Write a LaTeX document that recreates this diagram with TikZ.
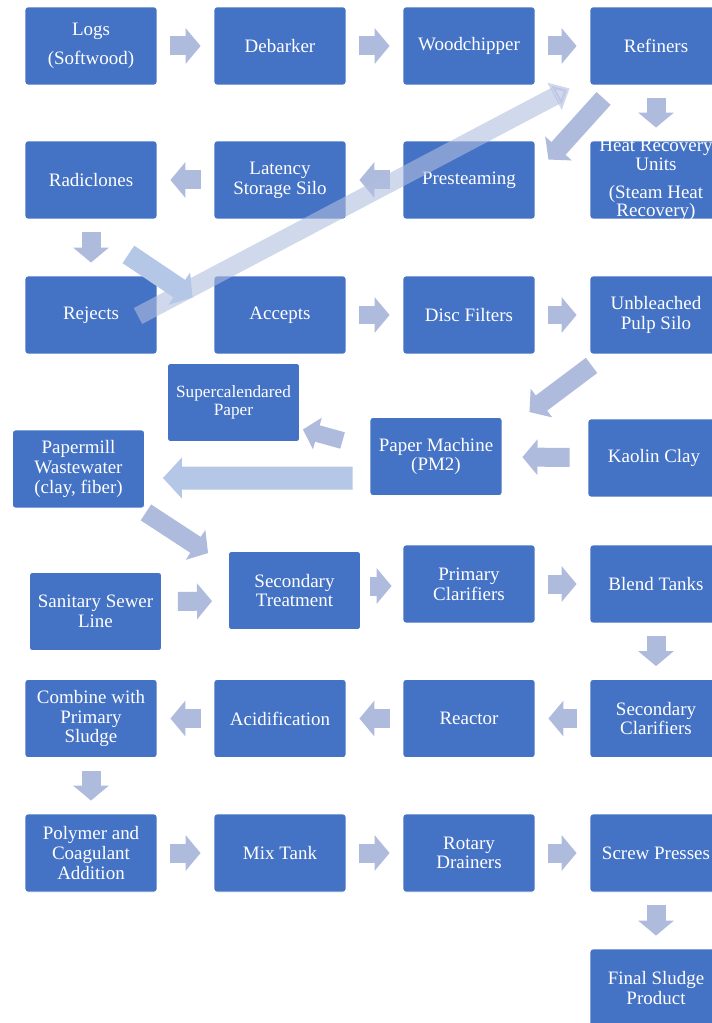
\documentclass[tikz,border=0pt]{standalone}
\usepackage{fontspec}
\setmainfont{Liberation Serif}
\usetikzlibrary{arrows.meta,calc}
\definecolor{boxblue}{RGB}{68,114,196}
\definecolor{arrgray}{RGB}{175,187,221}
\definecolor{arrblue}{RGB}{180,199,231}
\definecolor{arrpale}{RGB}{177,190,223}
\begin{document}
\begin{tikzpicture}[x=0.02cm, y=-0.02cm,
  box/.style={draw=white, line width=.5pt, fill=boxblue, rounded corners=1.5pt,
    minimum width=2.64cm, minimum height=1.56cm, inner sep=0pt, text=white,
    align=center, font=\fontsize{10.8}{11.2}\selectfont},
  flow/.style={draw=arrgray, line width=.38cm, -{Triangle[width=.7cm,length=.3cm]},
    shorten <=.26cm, shorten >=.26cm},
  diag/.style={flow, shorten <=0pt, shorten >=0pt}]
\useasboundingbox (0,0) rectangle (712,1023);
\clip (0,0) rectangle (712,1023);
% pulp line
\node[box] (logs) at (91,46) {Logs\\[5pt](Softwood)};
\node[box] (debarker) at (280,46) {Debarker};
\node[box] (chipper) at (469,46) {Woodchipper};
\node[box] (refiners) at (656,46) {Refiners};
\node[box] (radiclones) at (91,180) {Radiclones};
\node[box] (latency) at (280,180) {Latency\\Storage Silo};
\node[box] (presteam) at (469,180) {Presteaming};
\node[box] (heat) at (656,180) {};
\node[text=white, align=center, font=\fontsize{10.8}{10.6}\selectfont] (heattext) at (heat)
  {Heat Recovery\\Units\\[5.5pt](Steam Heat\\Recovery)};
\node[box] (rejects) at (91,315) {Rejects};
\node[box] (accepts) at (280,315) {Accepts};
\node[box] (disc) at (469,315) {Disc Filters};
\node[box] (silo) at (656,315) {Unbleached\\Pulp Silo};
% paper machine
\node[box, font=\fontsize{9.8}{10.2}\selectfont] (supercal) at (233.5,402.5) {Supercalendared\\Paper};
\node[box] (pm) at (436,456.5) {Paper Machine\\(PM2)};
\node[box] (kaolin) at (654,458) {Kaolin Clay};
\node[box] (pww) at (78.5,469) {Papermill\\Wastewater\\(clay, fiber)};
% wastewater
\node[box] (sewer) at (95.5,611.5) {Sanitary Sewer\\Line};
\node[box] (sectreat) at (294.5,590.5) {Secondary\\Treatment};
\node[box] (primclar) at (469,584) {Primary\\Clarifiers};
\node[box] (blend) at (656,584) {Blend Tanks};
\node[box] (combine) at (91,718.5) {Combine with\\Primary\\Sludge};
\node[box] (acid) at (280,718.5) {Acidification};
\node[box] (reactor) at (469,718.5) {Reactor};
\node[box] (secclar) at (656,718.5) {Secondary\\Clarifiers};
\node[box] (polymer) at (91,853) {Polymer and\\Coagulant\\Addition};
\node[box] (mix) at (280,853) {Mix Tank};
\node[box] (rotary) at (469,853) {Rotary\\Drainers};
\node[box] (screw) at (656,853) {Screw Presses};
\node[box] (final) at (656,988) {Final Sludge\\Product};

\draw[flow] (logs) -- (debarker);
\draw[flow] (debarker) -- (chipper);
\draw[flow] (chipper) -- (refiners);
\draw[flow] (refiners) -- (heat);
\draw[flow] (presteam) -- (latency);
\draw[flow] (latency) -- (radiclones);
\draw[flow] (radiclones) -- (rejects);
\draw[flow] (accepts) -- (disc);
\draw[flow] (disc) -- (silo);
\draw[diag] ($(refiners.south west)+(14,13)$) -- ($(presteam.north east)+(13,19)$);
\draw[diag, draw=arrpale, opacity=.6, line width=.36cm, -{Triangle[width=.6cm,length=.34cm]}]
  ($(rejects)+(47,1)$) -- ($(refiners.south west)+(-20,3)$);
\draw[diag, draw=arrblue, line width=.42cm, -{Triangle[width=.76cm,length=.32cm]}]
  ($(radiclones.south east)+(-29,35)$) -- ($(accepts.north west)+(-21,22)$);
\draw[diag] ($(silo.south west)+(2,11)$) -- ($(pm.north east)+(27,-5)$);
\draw[flow, shorten <=.36cm, shorten >=.4cm] (kaolin) -- (pm);
\draw[diag, line width=.34cm, -{Triangle[width=.64cm,length=.3cm]}]
  ($(pm.west)+(-27,-16)$) -- ($(supercal.east)+(3,27)$);
\draw[diag, draw=arrblue, line width=.46cm, -{Triangle[width=.8cm,length=.38cm]}]
  ($(pm.west)+(-17,21.5)$) -- ($(pww.east)+(18,9)$);
\draw[diag] ($(pww.south east)+(1,4)$) -- ($(sectreat.north west)+(-20,2)$);
\draw[flow, shorten <=.32cm, shorten >=.32cm] ($(sewer.east)+(0,-10)$) -- ($(sectreat.west)+(0,10.5)$);
\draw[flow, shorten <=.18cm, shorten >=.22cm] ($(sectreat.east)+(0,-4.5)$) -- ($(primclar.west)+(0,2)$);
\draw[flow] (primclar) -- (blend);
\draw[flow] (blend) -- (secclar);
\draw[flow] (secclar) -- (reactor);
\draw[flow] (reactor) -- (acid);
\draw[flow] (acid) -- (combine);
\draw[flow] (combine) -- (polymer);
\draw[flow] (polymer) -- (mix);
\draw[flow] (mix) -- (rotary);
\draw[flow] (rotary) -- (screw);
\draw[flow] (screw) -- (final);
\end{tikzpicture}
\end{document}
